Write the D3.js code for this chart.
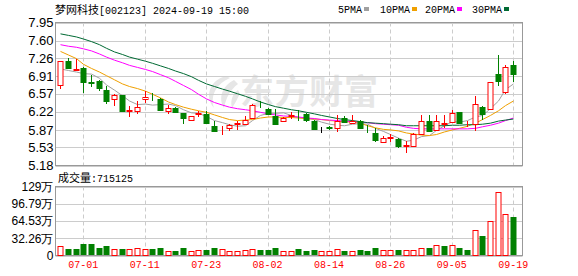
<!DOCTYPE html>
<html>
<head>
<meta charset="utf-8">
<script src="https://cdn.jsdelivr.net/npm/d3@7"></script>
<style>
  body { margin: 0; background: #fff; }
  svg { display: block; }
</style>
</head>
<body>
<svg id="chart" width="578" height="276"></svg>
<script>
// trading days shown (MM-DD)
const dates = [
  '06-26', '06-27', '06-28',
  '07-01', '07-02', '07-03', '07-04', '07-05',
  '07-08', '07-09', '07-10', '07-11', '07-12',
  '07-15', '07-16', '07-17', '07-18', '07-19',
  '07-22', '07-23', '07-24', '07-25', '07-26',
  '07-29', '07-30', '07-31', '08-01', '08-02',
  '08-05', '08-06', '08-07', '08-08', '08-09',
  '08-12', '08-13', '08-14', '08-15', '08-16',
  '08-19', '08-20', '08-21', '08-22', '08-23',
  '08-26', '08-27', '08-28', '08-29', '08-30',
  '09-02', '09-03', '09-04', '09-05', '09-06',
  '09-09', '09-10', '09-11', '09-12', '09-13',
  '09-18', '09-19'
];

const open = [6.74, 7.20, 7.03, 7.07, 6.79, 6.81, 6.65, 6.46, 6.54, 6.24,
  6.23, 6.46, 6.47, 6.46, 6.24, 6.30, 6.19, 6.07, 6.18, 6.17,
  5.95, 5.86, 5.90, 5.99, 5.99, 6.10, 6.36, 6.28, 6.13, 6.05,
  6.14, 6.14, 6.17, 6.05, 5.89, 5.92, 5.91, 6.10, 6.01, 6.05,
  5.87, 5.80, 5.63, 5.71, 5.70, 5.56, 5.55, 5.79, 6.05, 5.86,
  5.99, 6.02, 6.21, 5.98, 5.99, 6.31, 6.28, 6.96, 6.60, 7.12];
const high = [7.20, 7.26, 7.25, 7.08, 6.94, 6.83, 6.72, 6.56, 6.55, 6.34,
  6.42, 6.63, 6.59, 6.48, 6.36, 6.31, 6.20, 6.14, 6.23, 6.23,
  6.04, 5.95, 5.99, 6.05, 6.13, 6.37, 6.43, 6.30, 6.28, 6.12,
  6.21, 6.26, 6.20, 6.06, 5.93, 5.95, 6.16, 6.13, 6.15, 6.06,
  5.97, 5.91, 5.76, 5.79, 5.72, 5.65, 5.81, 6.15, 6.15, 6.15,
  6.15, 6.25, 6.21, 6.05, 6.52, 6.34, 6.80, 7.33, 7.13, 7.20];
const low = [6.67, 7.04, 7.02, 6.58, 6.70, 6.62, 6.38, 6.34, 6.22, 6.12,
  6.17, 6.39, 6.43, 6.24, 6.17, 6.19, 5.99, 6.04, 6.12, 5.99,
  5.84, 5.77, 5.84, 5.87, 5.98, 6.08, 6.29, 6.16, 5.98, 6.03,
  6.08, 6.05, 6.03, 5.87, 5.81, 5.86, 5.83, 6.00, 5.99, 5.89,
  5.81, 5.63, 5.61, 5.63, 5.52, 5.42, 5.54, 5.78, 5.83, 5.85,
  5.91, 6.00, 6.00, 5.92, 5.84, 6.07, 6.27, 6.72, 6.57, 6.79];
const close = [7.20, 7.07, 7.04, 6.79, 6.77, 6.68, 6.42, 6.55, 6.24, 6.25,
  6.32, 6.50, 6.46, 6.25, 6.30, 6.21, 6.10, 6.13, 6.19, 6.00,
  5.85, 5.87, 5.96, 6.00, 6.07, 6.36, 6.35, 6.18, 5.99, 6.10,
  6.15, 6.13, 6.06, 5.89, 5.89, 5.91, 6.05, 6.02, 6.05, 5.90,
  5.86, 5.67, 5.72, 5.73, 5.55, 5.57, 5.79, 6.05, 5.85, 6.05,
  6.01, 6.20, 6.00, 5.99, 6.38, 6.18, 6.80, 6.81, 7.08, 6.96];
// volume in 万 (10k shares)
const volume = [16.9, 11.3, 11.3, 21.3, 21.3, 13.2, 16.9, 11.3, 11.3, 12.5,
  14.4, 12.5, 11.3, 13.2, 8.8, 7.5, 13.2, 8.8, 10.6, 9.4,
  13.2, 12.5, 7.5, 7.5, 9.4, 12.5, 9.4, 9.4, 13.2, 8.8,
  7.5, 11.3, 7.5, 9.4, 7.5, 7.5, 12.5, 7.5, 8.8, 9.4,
  7.5, 13.2, 10.6, 9.4, 9.4, 9.4, 9.4, 14.4, 13.2, 20.0,
  16.9, 20.0, 13.2, 9.4, 48.2, 35.7, 65.1, 119.6, 78.3, 71.5125];

const ma5 = [7.05, 7.02, 6.99, 6.96, 6.95, 6.87, 6.74, 6.64, 6.53, 6.43,
  6.36, 6.37, 6.35, 6.36, 6.37, 6.34, 6.26, 6.20, 6.19, 6.13,
  6.05, 6.01, 5.97, 5.94, 5.95, 6.05, 6.15, 6.19, 6.19, 6.20,
  6.15, 6.11, 6.09, 6.07, 6.02, 5.98, 5.96, 5.95, 5.98, 5.99,
  5.98, 5.90, 5.84, 5.78, 5.71, 5.65, 5.67, 5.74, 5.76, 5.86,
  5.95, 6.03, 6.02, 6.05, 6.12, 6.15, 6.28, 6.43, 6.65, 6.76];
const ma10 = [7.39, 7.32, 7.25, 7.14, 7.06, 6.99, 6.92, 6.84, 6.76, 6.71,
  6.67, 6.62, 6.56, 6.49, 6.41, 6.36, 6.31, 6.27, 6.24, 6.21,
  6.16, 6.11, 6.07, 6.05, 6.06, 6.07, 6.10, 6.12, 6.12, 6.11,
  6.11, 6.10, 6.09, 6.08, 6.07, 6.05, 6.04, 6.03, 6.02, 6.00,
  5.95, 5.91, 5.88, 5.87, 5.85, 5.81, 5.79, 5.77, 5.76, 5.78,
  5.83, 5.87, 5.90, 5.94, 6.00, 6.07, 6.15, 6.24, 6.34, 6.43];
const ma20 = [7.52, 7.49, 7.47, 7.44, 7.40, 7.34, 7.28, 7.22, 7.17, 7.12,
  7.08, 7.04, 7.00, 6.94, 6.88, 6.81, 6.73, 6.65, 6.56, 6.47,
  6.40, 6.35, 6.31, 6.28, 6.26, 6.24, 6.21, 6.18, 6.16, 6.14,
  6.13, 6.12, 6.10, 6.09, 6.07, 6.06, 6.05, 6.04, 6.03, 6.02,
  6.01, 5.99, 5.98, 5.97, 5.96, 5.92, 5.90, 5.89, 5.89, 5.89,
  5.89, 5.89, 5.89, 5.89, 5.90, 5.93, 5.96, 6.00, 6.05, 6.10];
const ma30 = [7.73, 7.70, 7.67, 7.63, 7.58, 7.52, 7.45, 7.38, 7.33, 7.28,
  7.24, 7.20, 7.16, 7.11, 7.06, 7.01, 6.96, 6.90, 6.83, 6.76,
  6.71, 6.66, 6.62, 6.57, 6.52, 6.47, 6.41, 6.36, 6.32, 6.29,
  6.26, 6.24, 6.21, 6.18, 6.15, 6.12, 6.09, 6.07, 6.05, 6.03,
  6.01, 6.00, 5.99, 5.98, 5.97, 5.95, 5.95, 5.95, 5.95, 5.95,
  5.95, 5.96, 5.96, 5.97, 5.97, 5.98, 6.00, 6.04, 6.06, 6.08];

const priceTicks = [7.95, 7.60, 7.26, 6.91, 6.57, 6.22, 5.87, 5.53, 5.18];
const volTicks = [0, 32.26, 64.53, 96.79, 129];
const dateTicks = ['07-01', '07-11', '07-23', '08-02', '08-14', '08-26', '09-05', '09-19'];

const maNames = ['5PMA', '10PMA', '20PMA', '30PMA'];
const maColors = ['#a0a0a0', '#f0a000', '#ff00ff', '#006a33'];

const RED = '#ff0000';
const GREEN = '#008000';
const pLeft = 55.5, pRight = 522.5;
const pTop = 22.5, pBottom = 165.5;
const vTop = 186.5, vBottom = 255.5;

const svg = d3.select('#chart');

const x = d3.scaleBand().domain(dates).range([56.5, 517]);
const cx = d => Math.round(x(d) + x.bandwidth() / 2) + 0.5;
const y = d3.scaleLinear().domain([5.18, 7.95]).range([pBottom, pTop]);
const yv = d3.scaleLinear().domain([0, 129]).range([vBottom, vTop]);

const rows = dates.map((d, i) => ({
  date: d, i, o: open[i], h: high[i], l: low[i], c: close[i], v: volume[i]
}));

// ---- title & legend
const title = svg.append('text')
  .attr('x', 55).attr('y', 14)
  .attr('fill', '#000');
title.append('tspan')
  .attr('font-family', '"Noto Sans CJK SC", sans-serif')
  .attr('font-size', 11)
  .text('梦网科技');
title.append('tspan')
  .attr('font-family', '"Liberation Mono", monospace')
  .attr('font-size', 10)
  .text('[002123] 2024-09-19 15:00');

const legendX = [338, 380, 425, 472];
const legendW = [26, 32, 32, 32];
maNames.forEach((name, k) => {
  svg.append('text')
    .attr('x', legendX[k]).attr('y', 13)
    .attr('font-family', '"Liberation Mono", monospace')
    .attr('font-size', 10)
    .attr('fill', '#000')
    .text(name);
  svg.append('rect')
    .attr('x', legendX[k] + legendW[k]).attr('y', 7)
    .attr('width', 5).attr('height', 4)
    .attr('fill', maColors[k]);
});

// ---- watermark
const wm = svg.append('g').attr('fill', '#e6e6e6');
wm.append('text')
  .attr('x', 240).attr('y', 104)
  .attr('font-family', '"Noto Sans CJK SC", sans-serif')
  .attr('font-weight', 'bold')
  .attr('font-size', 34)
  .attr('textLength', 138)
  .text('东方财富');
wm.append('path')
  .attr('d', 'M226,76 C210,80 204,96 214,108 C210,96 216,84 230,78 Z M234,80 C222,86 218,98 224,108 C226,98 230,90 238,84 Z M238,90 C232,94 230,102 232,108 C236,102 238,97 240,94 Z');

// ---- grid
const grid = svg.append('g');
grid.append('g').selectAll('line').data(priceTicks).join('line')
  .attr('x1', pLeft).attr('x2', pRight)
  .attr('y1', d => Math.round(y(d)) + 0.5).attr('y2', d => Math.round(y(d)) + 0.5)
  .attr('stroke', '#cccccc');
grid.append('g').selectAll('line').data(volTicks).join('line')
  .attr('x1', pLeft).attr('x2', pRight)
  .attr('y1', d => Math.round(yv(d)) + 0.5).attr('y2', d => Math.round(yv(d)) + 0.5)
  .attr('stroke', '#cccccc');
[[pTop, pBottom], [vTop, vBottom]].forEach(([a, b]) => {
  grid.append('g').selectAll('line').data(dateTicks).join('line')
    .attr('x1', d => cx(d)).attr('x2', d => cx(d))
    .attr('y1', a).attr('y2', b)
    .attr('stroke', '#cccccc')
    .attr('stroke-dasharray', '4,3');
});

// ---- frames
[[pTop, pBottom], [vTop, vBottom]].forEach(([a, b]) => {
  svg.append('rect')
    .attr('x', pLeft).attr('y', a)
    .attr('width', pRight - pLeft).attr('height', b - a)
    .attr('fill', 'none').attr('stroke', '#999999');
});

// ---- moving averages
const maData = [ma5, ma10, ma20, ma30];
maData.forEach((arr, k) => {
  const line = d3.line()
    .x((v, i) => cx(dates[i]))
    .y(v => y(v));
  svg.append('path')
    .datum(arr)
    .attr('d', line)
    .attr('fill', 'none')
    .attr('stroke', maColors[k])
    .attr('stroke-width', 1);
});

// ---- candles
const candleColor = r => r.c > r.o ? RED : r.c < r.o ? GREEN : '#000';
const candles = svg.append('g').selectAll('g').data(rows).join('g');
candles.append('line')
  .attr('x1', d => cx(d.date)).attr('x2', d => cx(d.date))
  .attr('y1', d => Math.round(y(d.h))).attr('y2', d => Math.round(y(d.l)))
  .attr('stroke', candleColor);
candles.append('rect')
  .attr('x', d => cx(d.date) - 2.5)
  .attr('y', d => Math.round(y(Math.max(d.o, d.c))) + 0.5)
  .attr('width', 5)
  .attr('height', d => Math.max(0, Math.round(y(Math.min(d.o, d.c))) - Math.round(y(Math.max(d.o, d.c)))))
  .attr('fill', d => d.c > d.o ? '#fff' : candleColor(d))
  .attr('stroke', candleColor);

// ---- volume bars (coloured by change vs previous close)
const volUp = r => r.i === 0 ? r.c >= r.o : r.c >= close[r.i - 1];
svg.append('g').selectAll('rect').data(rows).join('rect')
  .attr('x', d => cx(d.date) - 2.5)
  .attr('y', d => Math.round(yv(d.v)) + 0.5)
  .attr('width', d => volUp(d) ? 5 : 6)
  .attr('height', d => Math.round(vBottom - 0.5) - Math.round(yv(d.v)))
  .attr('transform', d => volUp(d) ? null : 'translate(-0.5,-0.5)')
  .attr('fill', d => volUp(d) ? '#fff' : GREEN)
  .attr('stroke', d => volUp(d) ? RED : 'none');

// ---- axes
const fontAxis = '"Liberation Sans", Arial, sans-serif';
const gy = svg.append('g')
  .attr('transform', `translate(${pLeft - 2},0)`)
  .call(d3.axisLeft(y).tickValues(priceTicks).tickSize(0).tickPadding(0)
    .tickFormat(d3.format('.2f')));
gy.select('.domain').remove();
gy.selectAll('text')
  .attr('font-family', fontAxis).attr('font-size', 13).attr('fill', '#000');

const gv = svg.append('g')
  .attr('transform', `translate(${pLeft - 2},0)`)
  .call(d3.axisLeft(yv).tickValues(volTicks).tickSize(0).tickPadding(0)
    .tickFormat(d => d === 0 ? '0' : d + '万'));
gv.select('.domain').remove();
gv.selectAll('text')
  .attr('font-family', fontAxis).attr('font-size', 12).attr('fill', '#000');

const gx = svg.append('g')
  .attr('transform', `translate(0,${vBottom})`)
  .call(d3.axisBottom(x).tickValues(dateTicks).tickSize(0).tickPadding(5));
gx.select('.domain').remove();
gx.selectAll('text')
  .attr('font-family', '"Liberation Mono", monospace')
  .attr('font-size', 10).attr('fill', RED);

// ---- volume caption
const cap = svg.append('text').attr('x', 58).attr('y', 182).attr('fill', '#000');
cap.append('tspan')
  .attr('font-family', '"Noto Sans CJK SC", sans-serif').attr('font-size', 11)
  .text('成交量');
cap.append('tspan')
  .attr('font-family', '"Liberation Mono", monospace').attr('font-size', 10)
  .text(':' + Math.round(volume[volume.length - 1] * 10000));
</script>
</body>
</html>
